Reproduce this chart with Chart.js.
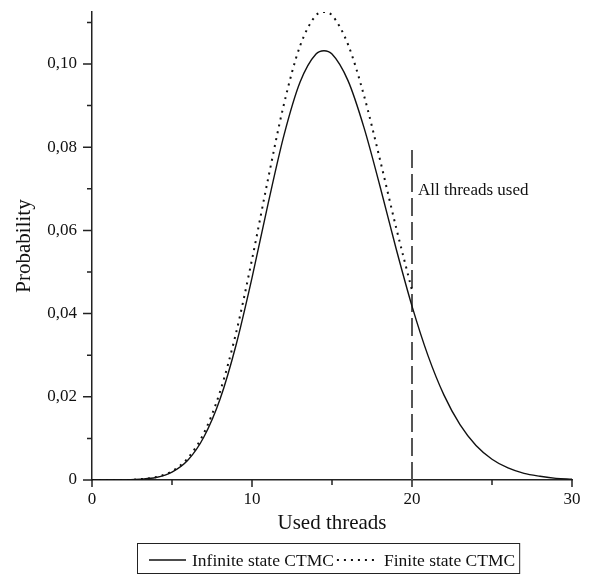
<!DOCTYPE html>
<html>
<head>
<meta charset="utf-8">
<script src="https://cdn.jsdelivr.net/npm/chart.js@4.4.1/dist/chart.umd.min.js"></script>
<style>
  body { margin: 0; background: #fff; }
</style>
</head>
<body>
<canvas id="myChart" width="593" height="574"></canvas>
<script>
// values
const threads = [0, 1, 2, 3, 4, 5, 6, 7, 8, 9, 10, 11, 12, 13, 14, 14.5, 15,
  16, 17, 18, 19, 20, 21, 22, 23, 24, 25, 26, 27, 28, 29, 30];
const infiniteProb = [0, 0, 0, 0.0002, 0.0006, 0.0019, 0.0048, 0.0104, 0.0194,
  0.0324, 0.0486, 0.0663, 0.0829, 0.0956, 0.1024, 0.1032, 0.1024, 0.0960,
  0.0847, 0.0706, 0.0557, 0.0418, 0.0299, 0.0204, 0.0133, 0.0083, 0.0050,
  0.0029, 0.0016, 0.0009, 0.0004, 0.0002];

const finiteThreads = [0, 1, 2, 3, 4, 5, 6, 7, 8, 9, 10, 11, 12, 13, 14, 14.5,
  15, 16, 17, 18, 19, 20];
const finiteProb = [0, 0, 0, 0.0002, 0.0007, 0.0021, 0.0053, 0.0113, 0.0212,
  0.0353, 0.0530, 0.0723, 0.0904, 0.1043, 0.1117, 0.1125, 0.1117, 0.1047,
  0.0924, 0.0770, 0.0608, 0.0456];

const maxThreads = 20;
const markerTop = 0.08;
const markerLabel = "All threads used";

const xTicks = [0, 10, 20, 30];
const yTicks = [0, 0.02, 0.04, 0.06, 0.08, 0.10];

const serif = "'Liberation Serif', 'Times New Roman', serif";
const axisColor = "#222";

function toPoints(xs, ys) {
  return xs.map((x, i) => ({ x: x, y: ys[i] }));
}

// tick marks, annotation and boxed legend
const extras = {
  id: "extras",
  afterDraw(chart) {
    const c = chart.ctx;
    const xs = chart.scales.x;
    const ys = chart.scales.y;
    const left = chart.chartArea.left;
    const bottom = chart.chartArea.bottom;

    c.save();
    c.strokeStyle = axisColor;
    c.lineWidth = 1.5;
    c.beginPath();
    ys.ticks.forEach((t) => {
      let major = yTicks.some((v) => Math.abs(v - t.value) < 1e-6);
      let py = ys.getPixelForValue(t.value);
      c.moveTo(left - (major ? 9 : 5), py);
      c.lineTo(left, py);
    });
    xs.ticks.forEach((t) => {
      let major = xTicks.includes(t.value);
      let px = xs.getPixelForValue(t.value);
      c.moveTo(px, bottom);
      c.lineTo(px, bottom + (major ? 7 : 5));
    });
    c.stroke();

    // annotation next to the dashed line
    c.fillStyle = "#111";
    c.font = "17px " + serif;
    c.textBaseline = "alphabetic";
    c.textAlign = "left";
    c.fillText(markerLabel, xs.getPixelForValue(maxThreads) + 6, ys.getPixelForValue(0.0685));

    // legend
    c.font = "17.5px " + serif;
    const ds = chart.data.datasets.slice(0, 2);
    const lineLen = 37;
    let widths = ds.map((d) => c.measureText(d.label).width);
    let total = lineLen + 6 + widths[0] + 3 + lineLen + 10 + widths[1];
    let boxW = total + 16;
    let boxL = Math.round((left + chart.chartArea.right) / 2 - boxW / 2) - 4;
    let boxT = 543;
    let boxH = 30;
    let cy = boxT + 17;
    c.lineWidth = 1;
    c.strokeStyle = "#222";
    c.strokeRect(boxL + 0.5, boxT + 0.5, boxW, boxH);

    let x = boxL + 12;
    c.textBaseline = "middle";
    ds.forEach((d, i) => {
      c.beginPath();
      c.setLineDash(d.borderDash || []);
      c.lineWidth = d.borderWidth;
      c.strokeStyle = d.borderColor;
      c.moveTo(x, cy);
      c.lineTo(x + lineLen, cy);
      c.stroke();
      c.setLineDash([]);
      x += lineLen + (i === 0 ? 6 : 10);
      c.fillText(d.label, x, cy + 1);
      x += widths[i] + 3;
    });
    c.restore();
  },
};

const ctx = document.getElementById("myChart");

new Chart(ctx, {
  type: "scatter",
  data: {
    datasets: [
      {
        label: "Infinite state CTMC",
        data: toPoints(threads, infiniteProb),
        showLine: true,
        borderColor: "#111",
        borderWidth: 1.4,
        pointRadius: 0,
        cubicInterpolationMode: "monotone",
      },
      {
        label: "Finite state CTMC",
        data: toPoints(finiteThreads, finiteProb),
        showLine: true,
        borderColor: "#111",
        borderWidth: 2,
        borderDash: [2, 5],
        pointRadius: 0,
        cubicInterpolationMode: "monotone",
      },
      {
        label: "marker",
        data: toPoints([maxThreads, maxThreads], [0, markerTop]),
        showLine: true,
        borderColor: "#555",
        borderWidth: 2,
        borderDash: [18, 6],
        pointRadius: 0,
      },
    ],
  },
  options: {
    responsive: false,
    animation: false,
    devicePixelRatio: 1,
    layout: { padding: { top: 12, right: 21, left: 0, bottom: 0 } },
    plugins: {
      legend: { display: false },
      tooltip: { enabled: false },
    },
    scales: {
      x: {
        type: "linear",
        min: 0,
        max: 30,
        grid: { display: false, drawTicks: false },
        border: { color: axisColor, width: 1.5 },
        ticks: {
          stepSize: 5,
          autoSkip: false,
          maxRotation: 0,
          padding: 9,
          color: "#111",
          font: { family: serif, size: 17 },
          callback: (v) => (xTicks.includes(v) ? String(v) : ""),
        },
        title: {
          display: true,
          text: "Used threads",
          color: "#111",
          font: { family: serif, size: 21 },
          padding: { top: 0, bottom: 38 },
        },
        afterFit: (scale) => {
          scale.height = 94;
          scale.paddingLeft = 0;
          scale.paddingRight = 0;
        },
      },
      y: {
        min: 0,
        max: 0.1125,
        grid: { display: false, drawTicks: false },
        border: { color: axisColor, width: 1.5 },
        ticks: {
          stepSize: 0.01,
          includeBounds: false,
          padding: 15,
          color: "#111",
          font: { family: serif, size: 17 },
          callback: (v) => {
            let n = Math.round(v * 100);
            if (n % 2 !== 0) return "";
            if (n === 0) return "0";
            return "0," + String(n).padStart(2, "0");
          },
        },
        title: {
          display: true,
          text: "Probability",
          color: "#111",
          font: { family: serif, size: 21 },
          padding: { top: 12 },
        },
        afterFit: (scale) => {
          scale.width = 92;
          scale.paddingTop = 0;
          scale.paddingBottom = 0;
        },
      },
    },
  },
  plugins: [extras],
});
</script>
</body>
</html>
